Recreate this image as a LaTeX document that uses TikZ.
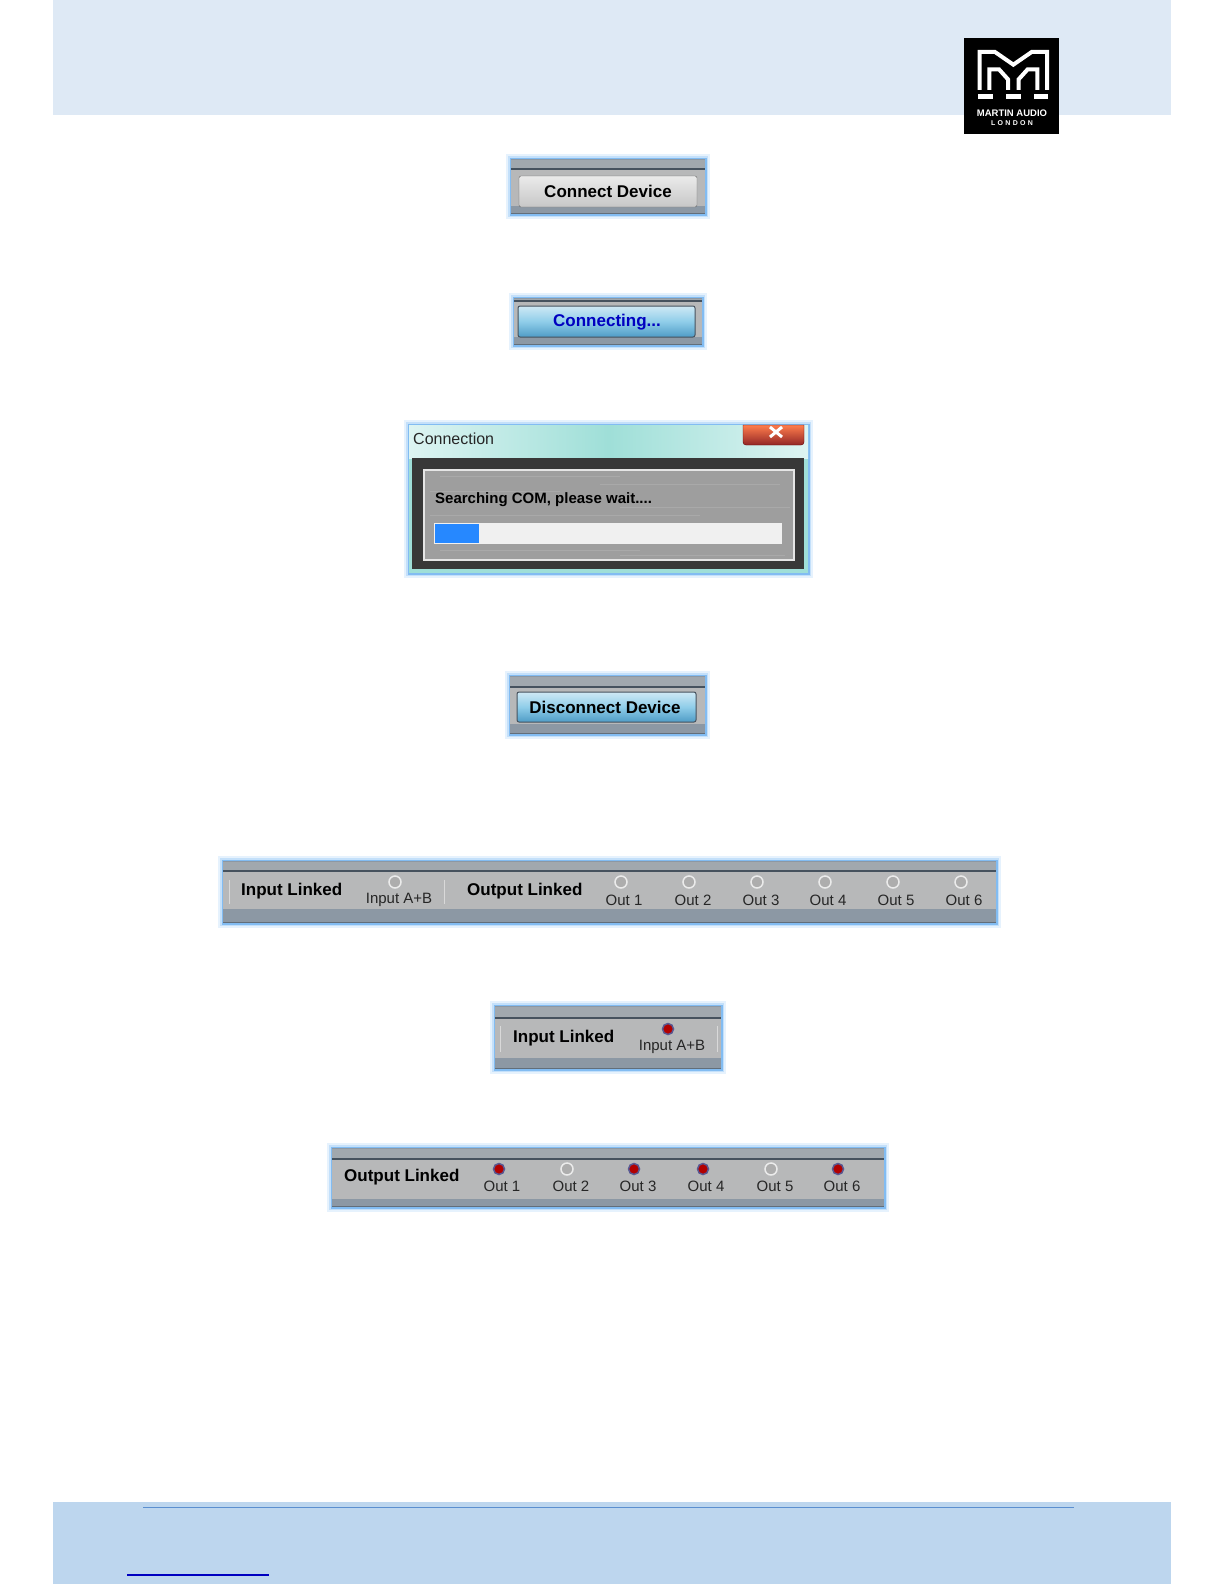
\documentclass[tikz,border=0pt]{standalone}
\usepackage{fontspec}
\setmainfont{Liberation Sans}
\usetikzlibrary{positioning}

\definecolor{headblue}{HTML}{DEE9F5}
\definecolor{footblue}{HTML}{BDD6EE}
\definecolor{glowpale}{HTML}{E6F2FD}
\definecolor{glowlight}{HTML}{C4E0FA}
\definecolor{glowmid}{HTML}{82BCF2}
\definecolor{panelgrey}{HTML}{B7B8B9}
\definecolor{stripgrey}{HTML}{8C98A4}
\definecolor{stripdark}{HTML}{46525E}
\definecolor{btntop}{HTML}{CFE9F5}
\definecolor{btnmid}{HTML}{8FCDE9}
\definecolor{btnlow}{HTML}{4F9CC6}
\definecolor{rulecol}{HTML}{5B8FD0}
\definecolor{linkcol}{HTML}{0000C0}
\definecolor{titleend}{HTML}{DDF4F2}
\definecolor{titlemid}{HTML}{9FDFD8}

% the blue glow round a rectangle
\newcommand{\glowbox}[4]{
  \draw[glowpale,line width=10pt] (#1,#2) rectangle (#3,#4);
  \draw[glowlight,line width=6pt] (#1,#2) rectangle (#3,#4);
  \draw[glowmid,line width=3pt] (#1,#2) rectangle (#3,#4);
}

% one grey bar: x1, top, x2, dark line, panel end, bottom
\newcommand{\panelbar}[6]{
  \glowbox{#1}{#2}{#3}{#6}
  \fill[panelgrey] (#1,#2) rectangle (#3,#6);
  \fill[stripgrey!50!panelgrey] (#1,#2) rectangle (#3,#4);
  \fill[stripgrey] (#1,#2) rectangle (#3,#2+1);
  \fill[stripdark] (#1,#4-1.5) rectangle (#3,#4+1);
  \fill[stripgrey] (#1,#5) rectangle (#3,#6);
  \fill[stripdark!60!stripgrey] (#1,#6-1) rectangle (#3,#6);
}

\begin{document}
\begin{tikzpicture}[x=1pt,y=-1pt]
  \tikzstyle{boldtext}=[inner sep=0pt,text=black,font=\fontsize{17}{20}\selectfont\bfseries]
  \tikzstyle{thintext}=[inner sep=0pt,text=black!85,font=\fontsize{15}{18}\selectfont]
  \tikzstyle{greybutton}=[rounded corners=2pt,draw=black!60,top color=white!92!black,bottom color=black!22]
  \tikzstyle{bluebutton}=[rounded corners=2pt,draw=stripdark,line width=1pt,top color=btntop,bottom color=btnlow,middle color=btnmid]
  \tikzstyle{ledoff}=[circle,inner sep=0pt,minimum size=12pt,draw=white!92!black,fill=black!32,line width=1.5pt]
  \tikzstyle{ledon}=[circle,inner sep=0pt,minimum size=11pt,draw=blue!35!black!65,fill=red!70!black,line width=1.5pt]

  \useasboundingbox (0,0) rectangle (1224,1584);
  \fill[white] (0,0) rectangle (1224,1584);

  % page bands
  \fill[headblue] (53,0) rectangle (1171,115);
  \fill[footblue] (53,1502) rectangle (1171,1584);
  \coordinate (ruleL) at (143,1507);
  \coordinate (ruleR) at (1074,1507);
  \coordinate (linkL) at (127,1575);
  \coordinate (linkR) at (269,1575);
  \draw[rulecol,line width=1pt] (ruleL) -- (ruleR);
  \draw[linkcol,line width=1.4pt] (linkL) -- (linkR);

  % logo
  \fill[black] (964,38) rectangle (1059,134);
  \begin{scope}[shift={(930,20)},x=0.3333pt,y=-0.3333pt,white,line width=4pt,line join=miter]
    \draw (149,210) -- (149,96) -- (195,96) -- (250,134) -- (305,96) -- (351,96) -- (351,210);
    \draw (178,210) -- (178,148) -- (207,148) -- (234,178) -- (234,210);
    \draw (322,210) -- (322,148) -- (293,148) -- (266,178) -- (266,210);
    \draw[line width=5pt] (145,231) -- (188,231) (228,231) -- (272,231) (312,231) -- (353,231);
  \end{scope}
  \node[inner sep=0pt,text=white,font=\fontsize{9.5}{10}\selectfont\bfseries] (logoname) at (1012,113) {MARTIN AUDIO};
  \node[inner sep=0pt,text=white,font=\fontsize{7}{8}\selectfont\bfseries] (logocity) at (1012,123) {L\,\,O\,\,N\,\,D\,\,O\,\,N};

  % connect device
  \panelbar{511}{159}{705}{169}{206}{214}
  \shade[greybutton] (519,176) rectangle (697,207);
  \node[boldtext] (connect) at (608,191) {Connect Device};

  % connecting
  \panelbar{514}{298}{702}{301}{337}{345}
  \shade[bluebutton] (518,306) rectangle (695,337);
  \node[boldtext,text=linkcol] (connecting) at (607,322) {Connecting...};

  % connection window
  \glowbox{409}{425}{808}{573}
  \fill[titlemid] (409,458) rectangle (808,573);
  \shade[left color=titleend,right color=titleend,middle color=titlemid] (409,425) rectangle (808,458);
  \shade[top color=red!45!orange!70!white,bottom color=red!50!black!85,draw=red!40!black] (743,425) [rounded corners=3pt] -- (743,445) -- (804,445) [sharp corners] -- (804,425) -- cycle;
  \draw[white,line width=3pt] (770,427) -- (782,437) (782,427) -- (770,437);
  \node[thintext,anchor=west,font=\fontsize{16}{18}\selectfont] (title) at (413,439) {Connection};
  \fill[black!78] (412,458) rectangle (804,569);
  \fill[black!38,draw=white!90!black,line width=1.5pt] (424,470) rectangle (794,560);
  % brushed metal streaks
  \foreach \y/\a/\b in {476/440/620,484/600/780,491/430/560,507/620/790,515/430/700,550/440/640,555/620/785}{
    \draw[white,opacity=.12,line width=1pt] (\a,\y) -- (\b,\y);
  }
  \node[boldtext,anchor=west,font=\fontsize{15}{18}\selectfont\bfseries] (searching) at (435,500) {Searching COM, please wait....};
  \fill[black!6] (434,523) rectangle (782,544);
  \fill[blue!55!cyan!85!white] (435,524) rectangle (479,543);

  % disconnect device
  \panelbar{510}{676}{705}{687}{724}{734}
  \shade[bluebutton] (517,692) rectangle (696,722);
  \node[boldtext] (disconnect) at (605,707) {Disconnect Device};

  % all links off
  \panelbar{223}{861}{996}{871}{909}{923}
  \draw[white!85!black] (229,880) -- (229,904) (444,880) -- (444,904);
  \node[boldtext,anchor=west] (inlink) at (241,891) {Input Linked};
  \node[ledoff] (ledinput) at (395,882) {};
  \node[thintext] (inputab) at (399,900) {Input A+B};
  \node[boldtext,anchor=west] (outlink) at (467,891) {Output Linked};
  \foreach \n/\lx/\tx in {1/621/624,2/689/693,3/757/761,4/825/828,5/893/896,6/961/964}{
    \node[ledoff] (ledout\n) at (\lx,882) {};
    \node[thintext] (out\n) at (\tx,900) {Out \n};
  }

  % input linked
  \panelbar{495}{1006}{721}{1018}{1058}{1069}
  \draw[white!85!black] (500,1026) -- (500,1052) (717,1026) -- (717,1052);
  \node[boldtext,anchor=west] (inlinkb) at (513,1038) {Input Linked};
  \node[ledon] (ledinputb) at (668,1029) {};
  \node[thintext] (inputabb) at (672,1047) {Input A+B};

  % output linked
  \panelbar{332}{1148}{884}{1159}{1199}{1207}
  \node[boldtext,anchor=west] (outlinkb) at (344,1177) {Output Linked};
  \foreach \n/\lx/\tx/\kind in {1/499/502/ledon,2/567/571/ledoff,3/634/638/ledon,4/703/706/ledon,5/771/775/ledoff,6/838/842/ledon}{
    \node[\kind] (ledoutb\n) at (\lx,1169) {};
    \node[thintext] (outb\n) at (\tx,1186) {Out \n};
  }
\end{tikzpicture}
\end{document}
